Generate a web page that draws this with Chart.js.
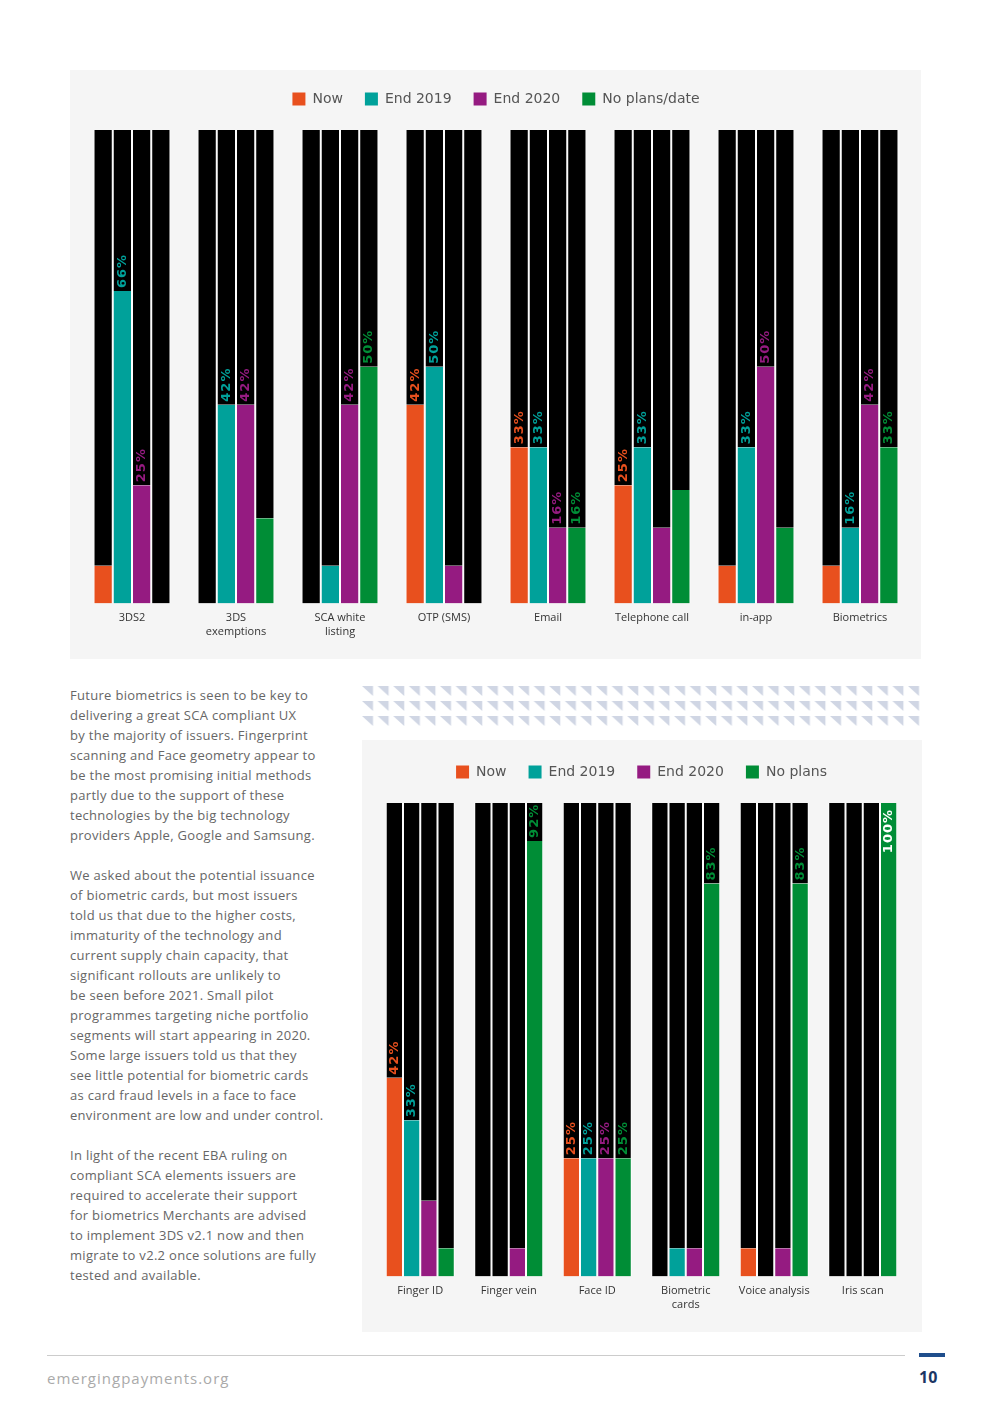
<!DOCTYPE html>
<html>
<head>
<meta charset="utf-8">
<script src="https://cdn.jsdelivr.net/npm/chart.js@4.4.1/dist/chart.umd.min.js"></script>
<style>
  body { margin: 0; background: #fff; width: 992px; height: 1403px; position: relative; font-family: "Open Sans", sans-serif; }
  .panel { position: absolute; background: #f5f5f5; }
  #p1 { left: 70px; top: 70px; width: 851px; height: 589px; }
  #p2 { left: 362px; top: 740px; width: 560px; height: 592px; }
  .text { position: absolute; left: 70px; top: 685px; width: 280px; font-size: 13px; line-height: 20px; color: #666; letter-spacing: 0.3px; white-space: pre; }
  #tri { position: absolute; left: 362px; top: 686px; }
  .rule { position: absolute; left: 47px; top: 1355px; width: 858px; height: 1px; background: #ccc; }
  .blue { position: absolute; left: 919px; top: 1353px; width: 26px; height: 4px; background: #1f4e8c; }
  .site { position: absolute; left: 47px; top: 1368px; font-size: 15px; color: #aaa; letter-spacing: 1px; }
  .page { position: absolute; left: 919px; top: 1366px; font-size: 16px; font-weight: bold; color: #1b3664; }
</style>
</head>
<body>
<div class="panel" id="p1"><canvas id="chart1"></canvas></div>
<div class="panel" id="p2"><canvas id="chart2"></canvas></div>

<svg id="tri" width="560" height="40">
  <defs>
    <pattern id="tp" width="15.6" height="15" patternUnits="userSpaceOnUse">
      <polygon points="0,0 11,0 11,10" fill="#d0d6e4"/>
    </pattern>
  </defs>
  <rect x="0" y="0" width="560" height="40" fill="url(#tp)"/>
</svg>

<div class="text">Future biometrics is seen to be key to
delivering a great SCA compliant UX
by the majority of issuers. Fingerprint
scanning and Face geometry appear to
be the most promising initial methods
partly due to the support of these
technologies by the big technology
providers Apple, Google and Samsung.

We asked about the potential issuance
of biometric cards, but most issuers
told us that due to the higher costs,
immaturity of the technology and
current supply chain capacity, that
significant rollouts are unlikely to
be seen before 2021. Small pilot
programmes targeting niche portfolio
segments will start appearing in 2020.
Some large issuers told us that they
see little potential for biometric cards
as card fraud levels in a face to face
environment are low and under control.

In light of the recent EBA ruling on
compliant SCA elements issuers are
required to accelerate their support
for biometrics Merchants are advised
to implement 3DS v2.1 now and then
migrate to v2.2 once solutions are fully
tested and available.</div>

<div class="rule"></div>
<div class="blue"></div>
<div class="site">emergingpayments.org</div>
<div class="page">10</div>

<script>
// chart 1 - authentication methods
const categories1 = ['3DS2', ['3DS', 'exemptions'], ['SCA white', 'listing'], 'OTP (SMS)', 'Email', 'Telephone call', 'in-app', 'Biometrics'];
const seriesNames1 = ['Now', 'End 2019', 'End 2020', 'No plans/date'];
const now1 = [8, 0, 0, 42, 33, 25, 8, 8];
const end2019_1 = [66, 42, 8, 50, 33, 33, 33, 16];
const end2020_1 = [25, 42, 42, 8, 16, 16, 50, 42];
const noPlans1 = [0, 18, 50, 0, 16, 24, 16, 33];
const tagsNow1 = ['', '', '', '42%', '33%', '25%', '', ''];
const tags2019_1 = ['66%', '42%', '', '50%', '33%', '33%', '33%', '16%'];
const tags2020_1 = ['25%', '42%', '42%', '', '16%', '', '50%', '42%'];
const tagsNoPlans1 = ['', '', '50%', '', '16%', '', '', '33%'];

// chart 2 - biometric methods
const categories2 = ['Finger ID', 'Finger vein', 'Face ID', ['Biometric', 'cards'], 'Voice analysis', 'Iris scan'];
const seriesNames2 = ['Now', 'End 2019', 'End 2020', 'No plans'];
const now2 = [42, 0, 25, 0, 6, 0];
const end2019_2 = [33, 0, 25, 6, 0, 0];
const end2020_2 = [16, 6, 25, 6, 6, 0];
const noPlans2 = [6, 92, 25, 83, 83, 100];
const tagsNow2 = ['42%', '', '25%', '', '', ''];
const tags2019_2 = ['33%', '', '25%', '', '', ''];
const tags2020_2 = ['', '', '25%', '', '', ''];
const tagsNoPlans2 = ['', '92%', '25%', '83%', '83%', '100%'];

const colours = ['#e8501e', '#00a19a', '#951b81', '#008d36'];

function buildSets(names, values, tags) {
    const sets = [];
    values.forEach((vals, i) => {
        const stack = 's' + i;
        sets.push({
            label: names[i], data: vals, stack: stack, tags: tags[i],
            backgroundColor: colours[i], borderColor: '#fff',
            borderWidth: { left: 1, right: 1, top: 0, bottom: 0 }, borderSkipped: false
        });
        sets.push({
            label: '', data: vals.map(v => 100 - v), stack: stack,
            backgroundColor: '#000', borderColor: '#fff',
            borderWidth: { left: 1, right: 1, top: 0, bottom: 0 }, borderSkipped: false
        });
    });
    return sets;
}

const tagPlugin = {
    id: 'tags',
    afterDatasetsDraw(chart) {
        const ctx = chart.ctx;
        chart.data.datasets.forEach((ds, di) => {
            if (!ds.tags) return;
            const meta = chart.getDatasetMeta(di);
            meta.data.forEach((bar, i) => {
                const t = ds.tags[i];
                if (!t) return;
                ctx.save();
                ctx.font = 'bold 13px "DejaVu Sans"';
                ctx.letterSpacing = '1px';
                ctx.textBaseline = 'middle';
                const full = ds.data[i] >= 100;
                ctx.fillStyle = full ? '#fff' : ds.backgroundColor;
                ctx.translate(bar.x, full ? bar.y + 6 : bar.y - 3);
                ctx.rotate(-Math.PI / 2);
                ctx.textAlign = full ? 'right' : 'left';
                ctx.fillText(t, 0, 0);
                ctx.restore();
            });
        });
    }
};

const legendGap = {
    id: 'legendGap',
    beforeInit(chart) {
        const fit = chart.legend.fit;
        chart.legend.fit = function () {
            fit.bind(chart.legend)();
            this.height += chart.options.plugins.legendGap.gap;
        };
    }
};

function makeChart(id, cats, names, values, tags, pad, catPct) {
    return new Chart(document.getElementById(id), {
        type: 'bar',
        data: { labels: cats, datasets: buildSets(names, values, tags) },
        plugins: [tagPlugin, legendGap],
        options: {
            responsive: true,
            maintainAspectRatio: false,
            animation: false,
            layout: { padding: pad },
            datasets: { bar: { barPercentage: 1, categoryPercentage: catPct } },
            scales: {
                x: {
                    stacked: true,
                    grid: { display: false }, border: { display: false },
                    ticks: { color: '#333', font: { family: 'Open Sans', size: 11 }, padding: 0, maxRotation: 0, autoSkip: false }
                },
                y: { stacked: true, min: 0, max: 100, display: false }
            },
            plugins: {
                legendGap: { gap: 14 },
                tooltip: { enabled: false },
                legend: {
                    labels: {
                        boxWidth: 13, boxHeight: 13, padding: 22, color: '#555',
                        font: { family: 'DejaVu Sans', size: 14 },
                        generateLabels(c) {
                            return Chart.defaults.plugins.legend.labels.generateLabels(c)
                                .filter(l => l.text !== '')
                                .map(l => Object.assign(l, { lineWidth: 0 }));
                        }
                    }
                }
            }
        }
    });
}

makeChart('chart1', categories1, seriesNames1, [now1, end2019_1, end2020_1, noPlans1],
    [tagsNow1, tags2019_1, tags2020_1, tagsNoPlans1],
    { top: 0, left: 10, right: 9, bottom: 21 }, 0.74);
makeChart('chart2', categories2, seriesNames2, [now2, end2019_2, end2020_2, noPlans2],
    [tagsNow2, tags2019_2, tags2020_2, tagsNoPlans2],
    { top: 3, left: 14, right: 15, bottom: 21 }, 0.78);
</script>
</body>
</html>
